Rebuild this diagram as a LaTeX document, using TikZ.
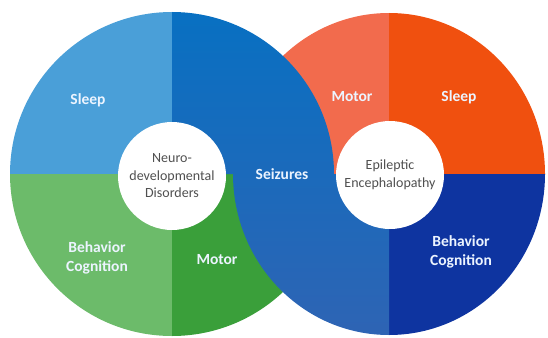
\documentclass[tikz,border=0pt]{standalone}
\usepackage{fontspec}
\setmainfont{Carlito}
\usepackage{tikz}
\definecolor{ndsleep}{RGB}{74,159,216}
\definecolor{ndbehav}{RGB}{108,187,106}
\definecolor{ndmotor}{RGB}{58,159,58}
\definecolor{eemotor}{RGB}{242,107,77}
\definecolor{eesleep}{RGB}{240,80,15}
\definecolor{eebehav}{RGB}{14,52,160}
\definecolor{seizup}{RGB}{8,112,194}
\definecolor{seizdown}{RGB}{46,100,180}
\definecolor{hubtext}{RGB}{80,80,80}
\definecolor{tagtext}{RGB}{236,244,255}
\tikzset{
  hub/.style={circle, fill=white, minimum size=108pt, inner sep=0pt, align=center,
    text=hubtext, font=\fontsize{14}{17.5}\selectfont},
  tag/.style={text=tagtext, align=center, font=\fontsize{15.5}{19}\selectfont\bfseries}
}

\begin{document}
\begin{tikzpicture}[x=1pt, y=-1pt]
    \useasboundingbox (0,0) rectangle (548,337);
    % Left circle quadrants
    \fill[ndsleep] (172,174) -- (10,174) arc[start angle=180, end angle=270, radius=162] -- cycle;
    \fill[ndbehav] (172,174) -- (10,174) arc[start angle=180, end angle=90, radius=162] -- cycle;
    \fill[ndmotor] (172,174) -- (334,174) arc[start angle=0, end angle=90, radius=162] -- cycle;
    % Right circle quadrants
    \fill[eemotor] (389,174) -- (233,174) arc[start angle=180, end angle=270, x radius=156, y radius=161] -- cycle;
    \fill[eesleep] (389,174) -- (545,174) arc[start angle=0, end angle=-90, x radius=156, y radius=161] -- cycle;
    \fill[eebehav] (389,174) -- (545,174) arc[start angle=0, end angle=90, x radius=156, y radius=161] -- cycle;
    % Shared seizure band
    \shade[top color=seizup, bottom color=seizdown]
      (172,174) -- (334,174) arc[start angle=0, end angle=-90, radius=162] -- cycle
      (389,174) -- (233,174) arc[start angle=180, end angle=90, x radius=156, y radius=161] -- cycle;
    % Centre circles
    \node[hub] (ndd) at (172,176) {Neuro-\\developmental\\Disorders};
    \node[hub] (ee) at (390,175) {Epileptic\\Encephalopathy};
    % Segment labels
    \node[tag] (ndsleeplbl) at (88,100) {Sleep};
    \node[tag] (ndbehavlbl) at (97,258) {Behavior\\Cognition};
    \node[tag] (ndmotorlbl) at (217,260) {Motor};
    \node[tag] (seizlbl) at (282,174) {Seizures};
    \node[tag] (eemotorlbl) at (352,97) {Motor};
    \node[tag] (eesleeplbl) at (459,97) {Sleep};
    \node[tag] (eebehavlbl) at (461,252) {Behavior\\Cognition};
\end{tikzpicture}
\end{document}
